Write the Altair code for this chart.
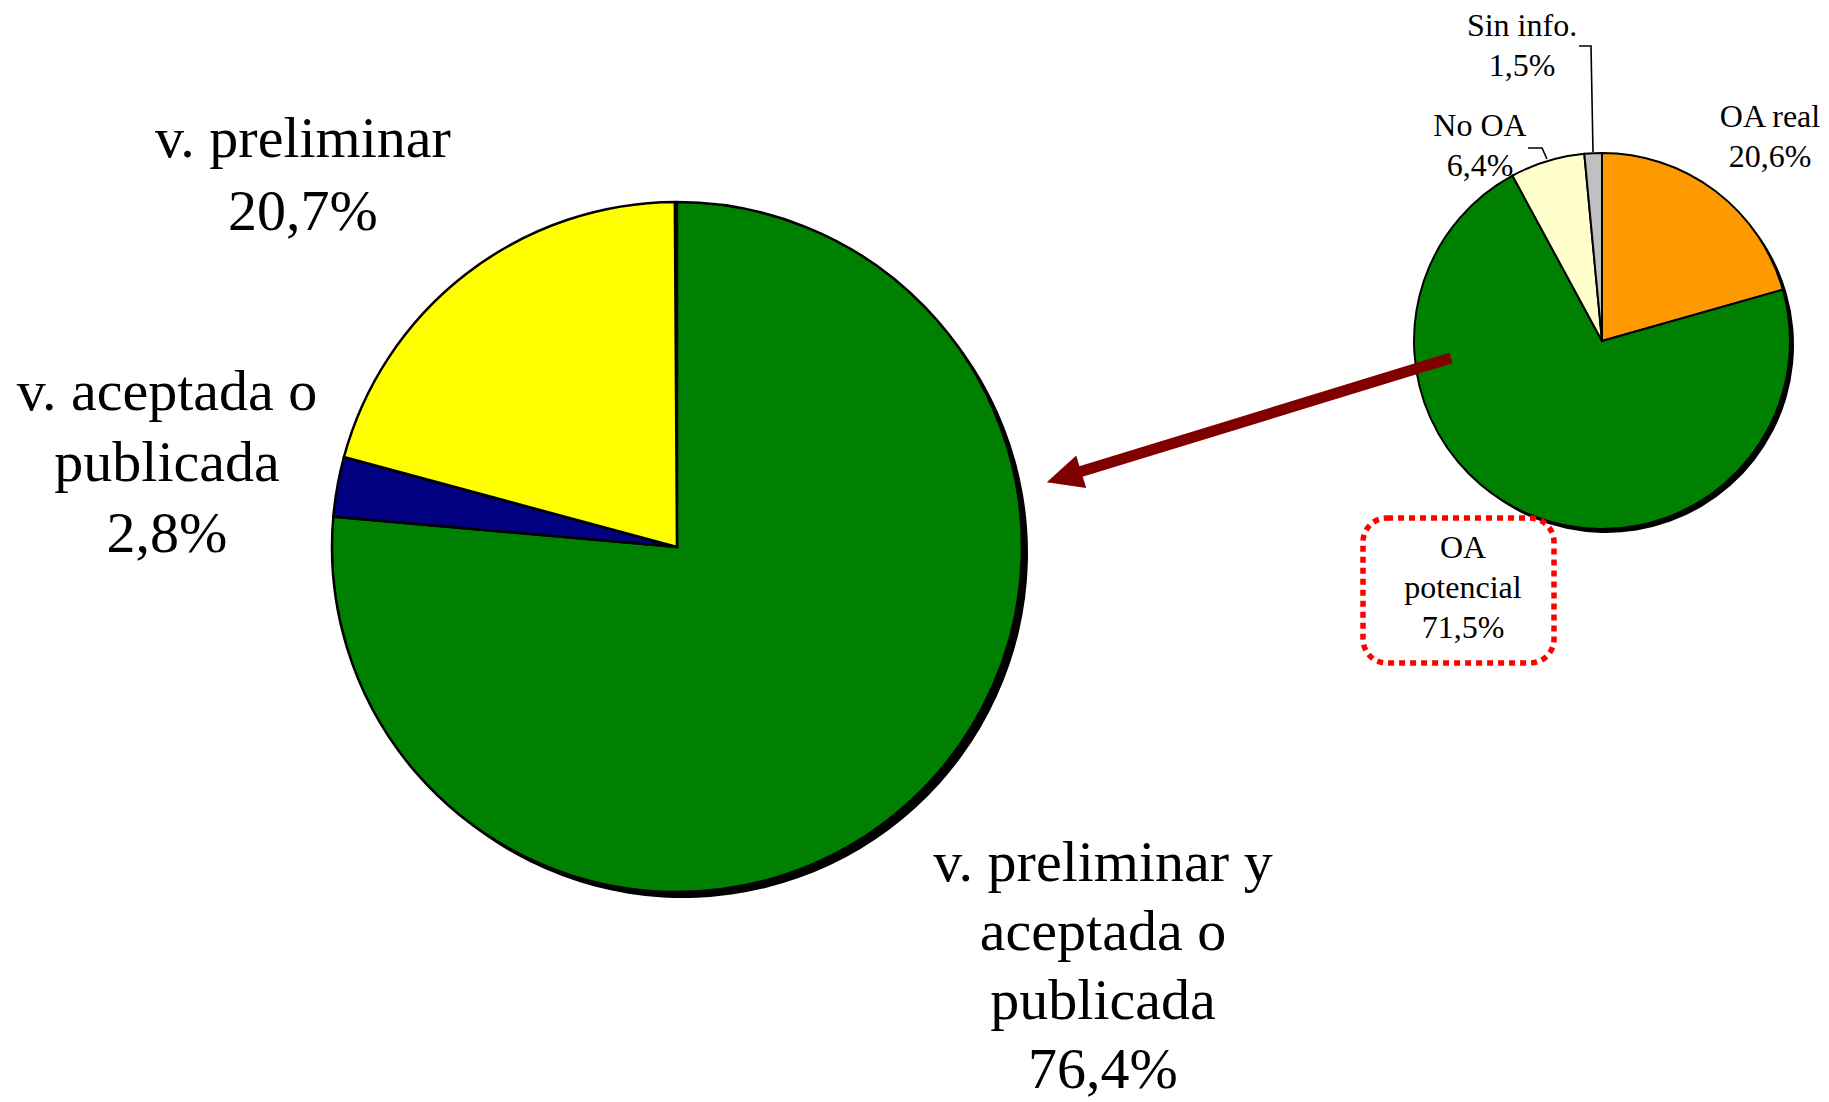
import altair as alt
import pandas as pd

# ---------------- data ----------------
big_categories = ["v. preliminar y\naceptada o\npublicada", "v. aceptada o\npublicada", "v. preliminar"]
big_values = [76.4, 2.8, 20.7]
big_colors = ["#008000", "#000080", "#FFFF00"]

small_categories = ["OA real", "OA\npotencial", "No OA", "Sin info."]
small_values = [20.6, 71.5, 6.4, 1.5]
small_colors = ["#FF9900", "#008000", "#FFFFCC", "#C0C0C0"]

# ---------------- layout (reference image pixels) ----------------
OFF = 8  # page margin
BIG_C = (677, 547)
BIG_R = 345
SMALL_C = (1602, 341)
SMALL_R = 188
# position of the first line of each label, and line spacing
big_label_xy = [(1103, 864), (167, 393), (303, 140)]
big_label_lh = [69, 71, 73]
small_label_xy = [(1770, 117), (1463, 548), (1480, 126), (1522, 26)]
SMALL_LH = 40
leaders = [
    [(1579, 46), (1591, 46), (1593, 152)],
    [(1528, 148), (1542, 148), (1547, 159)],
]
ARROW_START = (1451, 358)
ARROW_BASE = (1076, 473)
ARROW_HEAD_C = (1064, 477)
FONT = "Liberation Serif"


def P(v):
    return v - OFF


def pct(v):
    return f"{v:.1f}".replace(".", ",") + "%"


def label_rows(cats, vals, xy, lhs):
    rows = []
    for c, v, (x, y), lh in zip(cats, vals, xy, lhs):
        lines = c.split("\n") + [pct(v)]
        for i, line in enumerate(lines):
            rows.append({"line": line, "px": P(x), "py": P(y + i * lh)})
    return pd.DataFrame(rows)


big_df = pd.DataFrame({"cat": big_categories, "value": big_values, "idx": list(range(len(big_values)))})
small_df = pd.DataFrame({"scat": small_categories, "value": small_values, "idx": list(range(len(small_values)))})
big_lab = label_rows(big_categories, big_values, big_label_xy, big_label_lh)
small_lab = label_rows(small_categories, small_values, small_label_xy, [SMALL_LH] * len(small_values))

lead_rows = []
for g, pts in enumerate(leaders):
    for o, (x, y) in enumerate(pts):
        lead_rows.append({"g": g, "o": o, "px": P(x), "py": P(y)})
lead_df = pd.DataFrame(lead_rows)


def pie(df, field, colors, c, r, sw, shadow):
    base = alt.Chart(df)
    theta = alt.Theta("value:Q", stack=True)
    order = alt.Order("idx:Q")
    sh = base.mark_arc(radius=r, color="black").encode(
        theta=theta, order=order,
        x=alt.value(P(c[0]) + shadow), y=alt.value(P(c[1]) + shadow))
    main = base.mark_arc(radius=r, stroke="black", strokeWidth=sw).encode(
        theta=theta, order=order,
        color=alt.Color(f"{field}:N", scale=alt.Scale(domain=list(df[field]), range=colors), legend=None),
        x=alt.value(P(c[0])), y=alt.value(P(c[1])))
    return sh, main


big_sh, big_main = pie(big_df, "cat", big_colors, BIG_C, BIG_R, 2.5, 6)
small_sh, small_main = pie(small_df, "scat", small_colors, SMALL_C, SMALL_R, 2, 4)

big_text = alt.Chart(big_lab).mark_text(
    font=FONT, fontSize=58, align="center", baseline="middle", color="black"
).encode(x=alt.X("px:Q", scale=None), y=alt.Y("py:Q", scale=None), text="line:N")

small_text = alt.Chart(small_lab).mark_text(
    font=FONT, fontSize=32, align="center", baseline="middle", color="black"
).encode(x=alt.X("px:Q", scale=None), y=alt.Y("py:Q", scale=None), text="line:N")

lead = alt.Chart(lead_df).mark_line(color="black", strokeWidth=1.6).encode(
    x=alt.X("px:Q", scale=None), y=alt.Y("py:Q", scale=None), detail="g:N", order="o:Q")

arrow_line = alt.Chart(pd.DataFrame({"a": [0]})).mark_rule(color="#800000", strokeWidth=11).encode(
    x=alt.value(P(ARROW_START[0])), y=alt.value(P(ARROW_START[1])),
    x2=alt.value(P(ARROW_BASE[0])), y2=alt.value(P(ARROW_BASE[1])))

arrow_head = alt.Chart(pd.DataFrame({"a": [0]})).mark_point(
    shape="M-1,0L1,-0.95L1,0.95Z", size=36 * 36, filled=True, fill="#800000", opacity=1,
    strokeWidth=0, angle=343).encode(
    x=alt.value(P(ARROW_HEAD_C[0])), y=alt.value(P(ARROW_HEAD_C[1])))

box = alt.Chart(pd.DataFrame({"a": [0]})).mark_rect(
    fill="transparent", stroke="#FF0000", strokeWidth=5.5, strokeDash=[6, 5], cornerRadius=24).encode(
    x=alt.value(P(1363)), x2=alt.value(P(1554)), y=alt.value(P(518)), y2=alt.value(P(663)))

chart = alt.layer(
    big_sh, big_main, small_sh, small_main, lead, small_text, big_text, box, arrow_line, arrow_head
).resolve_scale(color="independent").properties(
    width=1813, height=1094, padding=0, autosize=alt.AutoSizeParams(type="none")
).configure_view(stroke=None)

chart.save("out.html", embed_options={"renderer": "svg", "actions": False})
